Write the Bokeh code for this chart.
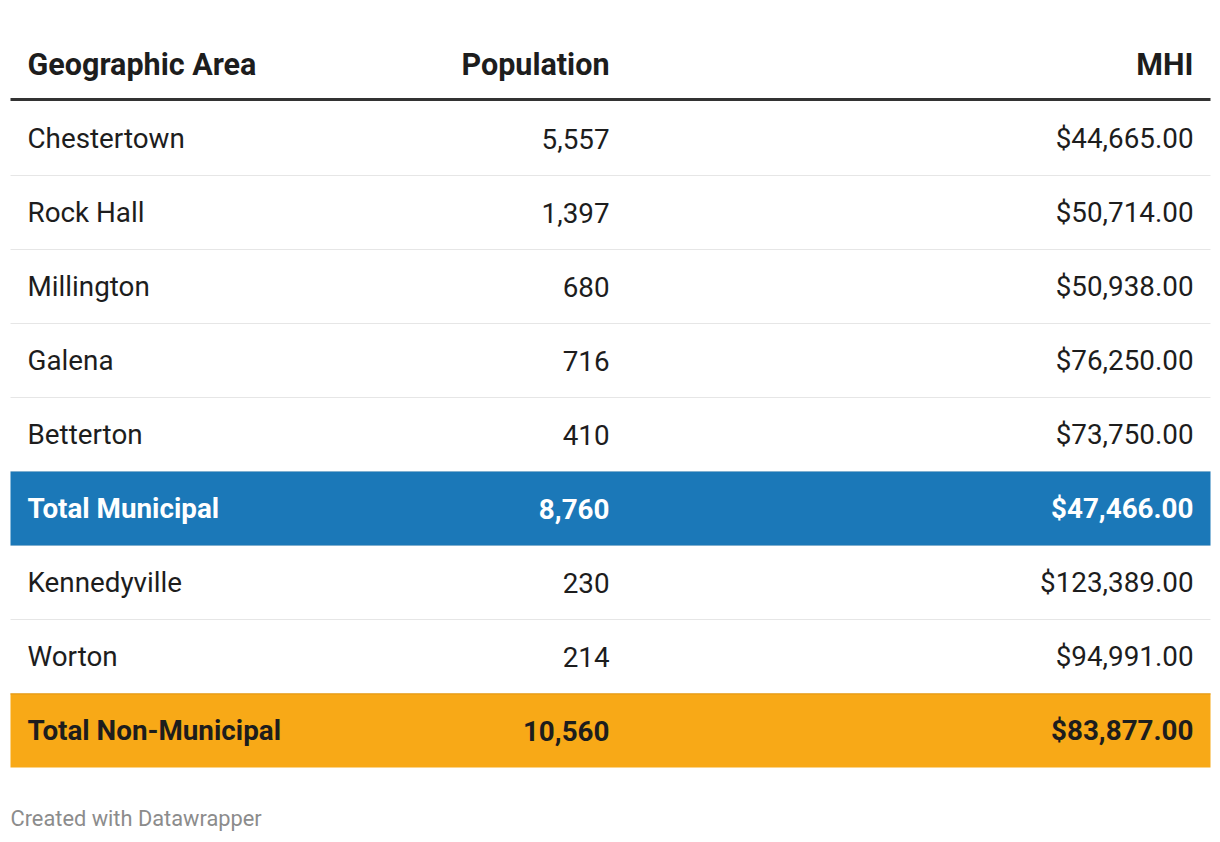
from bokeh.plotting import figure
from bokeh.models import Range1d
from bokeh.core.properties import value
from bokeh.embed import file_html
from bokeh.resources import INLINE

# ---- data ----
headers = ["Geographic Area", "Population", "MHI"]
areas = ["Chestertown", "Rock Hall", "Millington", "Galena", "Betterton",
         "Total Municipal", "Kennedyville", "Worton", "Total Non-Municipal"]
population = [5557, 1397, 680, 716, 410, 8760, 230, 214, 10560]
mhi = [44665.00, 50714.00, 50938.00, 76250.00, 73750.00, 47466.00,
       123389.00, 94991.00, 83877.00]
highlight = {"Total Municipal": ("#1b78b8", "#ffffff"),
             "Total Non-Municipal": ("#f8a917", "#1d1d1d")}

# ---- layout (pixel coordinates of the page) ----
W, H = 1212, 834
FONT = value("Roboto")
TEXT = "#1d1d1d"
header_y = 64
table_top = 101
row_h = 74
x_left, x_right = 10, 1210
col1_x, col2_x, col3_x = 27, 609, 1193
HEAD_SIZE = "30.5px"
BODY_SIZE = "27.8px"
FOOT_SIZE = "21.8px"

p = figure(width=W, height=H, output_backend="svg", toolbar_location=None,
           x_range=Range1d(0, W), y_range=Range1d(H, 0),
           min_border=0, outline_line_color=None)
p.axis.visible = False
p.grid.visible = False
p.background_fill_color = "#ffffff"
p.border_fill_color = "#ffffff"

n = len(areas)
tops = [table_top + row_h * i for i in range(n)]
bots = [t + row_h for t in tops]
mids = [t + row_h / 2 for t in tops]

# row separators
sep_y = [b for b in bots[:-1]]
p.segment(x0=[x_left] * len(sep_y), x1=[x_right] * len(sep_y), y0=sep_y, y1=sep_y,
          line_color="#e6e6e6", line_width=1)

# highlighted rows
for i, a in enumerate(areas):
    if a in highlight:
        fill, _ = highlight[a]
        p.quad(left=[x_left], right=[x_right], top=[tops[i]], bottom=[bots[i]],
               fill_color=fill, line_color=None)
        if a == "Total Non-Municipal":
            p.segment(x0=[x_left], x1=[x_right], y0=[tops[i] + 0.5], y1=[tops[i] + 0.5],
                      line_color="#e69a12", line_width=1)

# header rule
p.segment(x0=[x_left], x1=[x_right], y0=[table_top - 2], y1=[table_top - 2],
          line_color="#333333", line_width=3)

# header texts
p.text(x=[col1_x], y=[header_y], text=[headers[0]], text_align="left",
       text_baseline="middle", text_font=FONT, text_font_style="bold",
       text_font_size=HEAD_SIZE, text_color=TEXT)
p.text(x=[col2_x, col3_x], y=[header_y, header_y], text=headers[1:], text_align="right",
       text_baseline="middle", text_font=FONT, text_font_style="bold",
       text_font_size=HEAD_SIZE, text_color=TEXT)

# body texts
for i, a in enumerate(areas):
    bold = a in highlight
    color = highlight[a][1] if bold else TEXT
    style = "bold" if bold else "normal"
    pop_txt = f"{population[i]:,}"
    mhi_txt = f"${mhi[i]:,.2f}"
    p.text(x=[col1_x], y=[mids[i]], text=[a], text_align="left",
           text_baseline="middle", text_font=FONT, text_font_style=style,
           text_font_size=BODY_SIZE, text_color=color)
    p.text(x=[col2_x, col3_x], y=[mids[i], mids[i]], text=[pop_txt, mhi_txt],
           text_align="right", text_baseline="middle", text_font=FONT,
           text_font_style=style, text_font_size=BODY_SIZE, text_color=color)

# footer
p.text(x=[10], y=[818], text=["Created with Datawrapper"], text_align="left",
       text_baseline="middle", text_font=FONT, text_font_size=FOOT_SIZE,
       text_color="#8c8c8c")

open("out.html", "w").write(file_html(p, INLINE))
